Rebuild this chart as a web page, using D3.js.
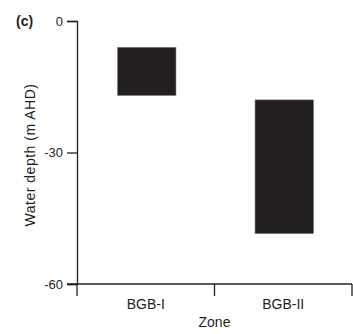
<!DOCTYPE html>
<html>
<head>
<meta charset="utf-8">
<script src="https://cdn.jsdelivr.net/npm/d3@7"></script>
<style>
  body { margin: 0; background: #fff; }
  text { font-family: "Liberation Sans", Arial, sans-serif; fill: #231f20; }
</style>
</head>
<body>
<div id="chart"></div>
<script>
// Water depth ranges per zone
const zones = ['BGB-I', 'BGB-II'];
const depthTop = [-6, -18];
const depthBottom = [-17, -48.5];
const yTicks = [0, -30, -60];

const width = 353, height = 334;
const margin = { top: 21, right: 1, bottom: 50, left: 77 };

const svg = d3.select('#chart')
  .append('svg')
  .attr('width', width)
  .attr('height', height);

const x = d3.scaleBand()
  .domain(zones)
  .range([margin.left, width - margin.right])
  .paddingInner(0)
  .paddingOuter(0);

const y = d3.scaleLinear()
  .domain([-60, 0])
  .range([height - margin.bottom, margin.top]);

const rows = zones.map((z, i) => ({ zone: z, top: depthTop[i], bottom: depthBottom[i] }));

// Bars
const barW = x.bandwidth() * 0.425;
svg.selectAll('.bar')
  .data(rows)
  .join('rect')
  .attr('class', 'bar')
  .attr('x', d => x(d.zone) + x.bandwidth() / 2 - barW / 2 + 1)
  .attr('y', d => y(d.top))
  .attr('width', barW)
  .attr('height', d => y(d.bottom) - y(d.top))
  .attr('fill', '#231f20')
  .attr('stroke', '#7a7a7a')
  .attr('stroke-width', 0.6);

// Y axis (plain hyphen for negatives, like the original)
const yAxis = svg.append('g')
  .attr('transform', `translate(${margin.left},0)`)
  .call(d3.axisLeft(y).tickValues(yTicks).tickSize(10).tickPadding(4).tickFormat(d => String(d)));
yAxis.selectAll('path, line').attr('stroke', '#231f20').attr('stroke-width', 1.3);
yAxis.selectAll('text').style('font-size', '13px').attr('fill', '#231f20');

// X axis: line plus ticks at band boundaries
const x0 = y(-60);
const xAxis = svg.append('g');
xAxis.append('line')
  .attr('x1', margin.left - 10)
  .attr('x2', width - margin.right)
  .attr('y1', x0)
  .attr('y2', x0)
  .attr('stroke', '#231f20')
  .attr('stroke-width', 1.3);

const bounds = zones.map(z => x(z)).concat([x(zones[zones.length - 1]) + x.bandwidth()]);
xAxis.selectAll('.xtick')
  .data(bounds)
  .join('line')
  .attr('class', 'xtick')
  .attr('x1', d => d)
  .attr('x2', d => d)
  .attr('y1', x0)
  .attr('y2', x0 + 12)
  .attr('stroke', '#231f20')
  .attr('stroke-width', 1.3);

xAxis.selectAll('.xlabel')
  .data(zones)
  .join('text')
  .attr('class', 'xlabel')
  .attr('x', d => x(d) + x.bandwidth() / 2)
  .attr('y', 309)
  .attr('text-anchor', 'middle')
  .style('font-size', '14px')
  .text(d => d);

// Axis titles
svg.append('text')
  .attr('x', (margin.left + width - margin.right) / 2)
  .attr('y', 327)
  .attr('text-anchor', 'middle')
  .style('font-size', '14px')
  .text('Zone');

svg.append('text')
  .attr('transform', 'translate(35,155) rotate(-90)')
  .attr('text-anchor', 'middle')
  .style('font-size', '14px')
  .style('letter-spacing', '0.5px')
  .text('Water depth (m AHD)');

// Panel label
svg.append('text')
  .attr('x', 16)
  .attr('y', 26)
  .style('font-size', '14px')
  .style('font-weight', 'bold')
  .text('(c)');
</script>
</body>
</html>
